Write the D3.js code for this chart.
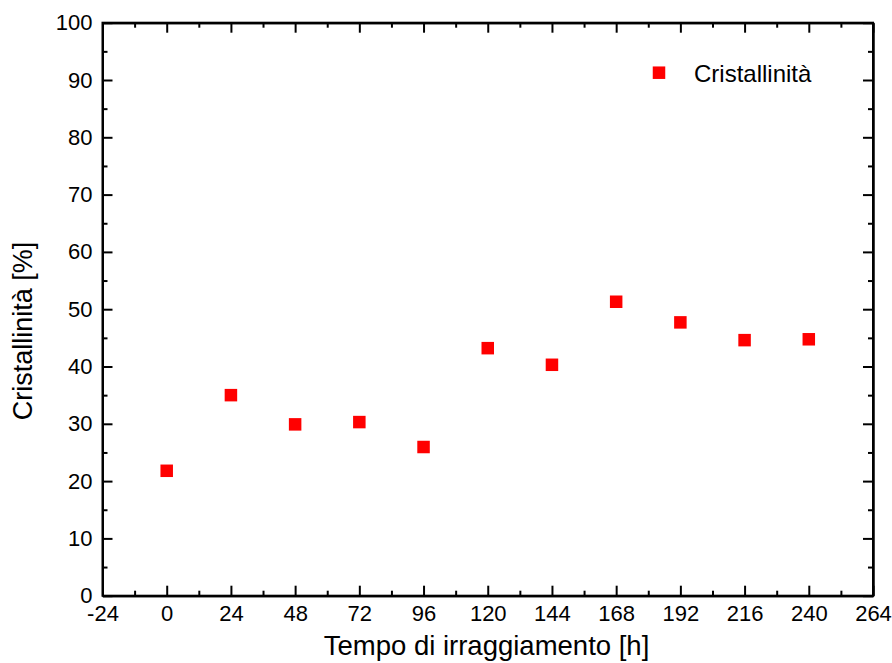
<!DOCTYPE html>
<html>
<head>
<meta charset="utf-8">
<script src="https://cdn.jsdelivr.net/npm/d3@7"></script>
<style>
html,body{margin:0;padding:0;background:#fff;}
svg{display:block;font-family:"Liberation Sans",Arial,sans-serif;}
</style>
</head>
<body>
<svg id="chart" width="892" height="663"></svg>
<script>
const hours = [0, 24, 48, 72, 96, 120, 144, 168, 192, 216, 240];
const crystallinity = [21.8, 35.0, 29.9, 30.3, 25.95, 43.2, 40.3, 51.3, 47.7, 44.6, 44.75];
const xTicks = [-24, 0, 24, 48, 72, 96, 120, 144, 168, 192, 216, 240, 264];
const yTicks = [0, 10, 20, 30, 40, 50, 60, 70, 80, 90, 100];
const seriesName = "Cristallinità";
const xTitle = "Tempo di irraggiamento [h]";
const yTitle = "Cristallinità [%]";

const svg = d3.select("#chart");
const L = 102.5, R = 873, T = 22.7, B = 595.7;
const x = d3.scaleLinear().domain([-24, 264]).range([L, R]);
const y = d3.scaleLinear().domain([0, 100]).range([B, T]);

const xMinor = d3.range(-12, 264, 24);
const yMinor = d3.range(5, 100, 10);

const g = svg.append("g");
const sw = 2;
const fmt = d => String(d);

function addAxis(axisGen, transform) {
  const a = g.append("g").attr("transform", transform).call(axisGen);
  a.select(".domain").attr("stroke", "#000").attr("stroke-width", sw);
  a.selectAll(".tick line").attr("stroke", "#000").attr("stroke-width", sw);
  a.selectAll("text").attr("fill", "#000").style("font-size", "22px")
    .style("font-family", '"Liberation Sans",Arial,sans-serif');
  return a;
}

// bottom
addAxis(d3.axisBottom(x).tickValues(xTicks).tickSize(-10).tickPadding(10).tickSizeOuter(0).tickFormat(fmt), `translate(0,${B})`);
addAxis(d3.axisBottom(x).tickValues(xMinor).tickSize(-5).tickSizeOuter(0).tickFormat(""), `translate(0,${B})`);
// top
addAxis(d3.axisTop(x).tickValues(xTicks).tickSize(-10).tickSizeOuter(0).tickFormat(""), `translate(0,${T})`);
addAxis(d3.axisTop(x).tickValues(xMinor).tickSize(-5).tickSizeOuter(0).tickFormat(""), `translate(0,${T})`);
// left
addAxis(d3.axisLeft(y).tickValues(yTicks).tickSize(-10).tickPadding(10).tickSizeOuter(0).tickFormat(fmt), `translate(${L},0)`);
addAxis(d3.axisLeft(y).tickValues(yMinor).tickSize(-5).tickSizeOuter(0).tickFormat(""), `translate(${L},0)`);
// right
addAxis(d3.axisRight(y).tickValues(yTicks).tickSize(-10).tickSizeOuter(0).tickFormat(""), `translate(${R},0)`);
addAxis(d3.axisRight(y).tickValues(yMinor).tickSize(-5).tickSizeOuter(0).tickFormat(""), `translate(${R},0)`);

// frame
g.append("rect").attr("x", L).attr("y", T).attr("width", R - L).attr("height", B - T)
  .attr("fill", "none").attr("stroke", "#000").attr("stroke-width", sw);

// points
const ms = 12.5;
g.append("g").selectAll("rect").data(hours.map((h, i) => [h, crystallinity[i]])).join("rect")
  .attr("x", d => x(d[0]) - ms / 2).attr("y", d => y(d[1]) - ms / 2)
  .attr("width", ms).attr("height", ms).attr("fill", "#ff0000");

// legend
svg.append("rect").attr("x", 659 - ms / 2).attr("y", 72.7 - ms / 2).attr("width", ms).attr("height", ms).attr("fill", "#ff0000");
svg.append("text").attr("x", 694).attr("y", 81.5).style("font-size", "24px").attr("fill", "#000").text(seriesName);

// titles
svg.append("text").attr("x", 486.5).attr("y", 655).attr("text-anchor", "middle")
  .style("font-size", "27.5px").attr("fill", "#000").text(xTitle);
svg.append("text").attr("transform", `translate(32,331) rotate(-90)`).attr("text-anchor", "middle")
  .style("font-size", "27px").attr("fill", "#000").text(yTitle);
</script>
</body>
</html>
